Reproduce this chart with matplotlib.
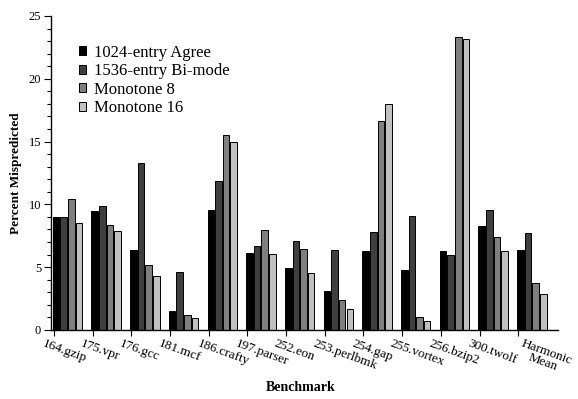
import numpy as np
import matplotlib
matplotlib.use("Agg")
import matplotlib.pyplot as plt
from matplotlib.ticker import MultipleLocator

plt.rcParams["font.family"] = ["Liberation Serif", "DejaVu Serif"]

# ── Data ──────────────────────────────────────────────────────────────────────
benchmarks = ["164.gzip", "175.vpr", "176.gcc", "181.mcf", "186.crafty",
              "197.parser", "252.eon", "253.perlbmk", "254.gap", "255.vortex",
              "256.bzip2", "300.twolf", "Harmonic\nMean"]

agree   = [9.0, 9.45, 6.35, 1.55, 9.55, 6.1, 4.96, 3.12, 6.32, 4.75, 6.32, 8.27, 6.37]
bimode  = [9.0, 9.85, 13.28, 4.6, 11.87, 6.67, 7.12, 6.35, 7.8, 9.04, 6.0, 9.55, 7.73]
mono8   = [10.45, 8.37, 5.2, 1.2, 15.52, 7.92, 6.43, 2.35, 16.67, 1.01, 23.3, 7.41, 3.76]
mono16  = [8.5, 7.87, 4.32, 0.93, 14.99, 6.03, 4.53, 1.65, 18.0, 0.75, 23.2, 6.29, 2.88]

series = [agree, bimode, mono8, mono16]
labels = ["1024-entry Agree", "1536-entry Bi-mode", "Monotone 8", "Monotone 16"]
colors = ["#000000", "#3f3f3f", "#7f7f7f", "#c0c0c0"]

# ── Figure ────────────────────────────────────────────────────────────────────
fig = plt.figure(figsize=(5.78, 3.99), dpi=100)
ax = fig.add_axes([0.088, 0.173, 0.877, 0.787])

x = np.arange(len(benchmarks))
pitch = 0.197
width = 0.17

for j, (vals, lbl, col) in enumerate(zip(series, labels, colors)):
    ax.bar(x - 0.03 + j * pitch, vals, width, align="edge", color=col,
           edgecolor="black", linewidth=0.7, label=lbl)

ax.set_xlim(-0.078, 13.02)
ax.set_ylim(0, 25)
ax.yaxis.set_major_locator(MultipleLocator(5))
ax.yaxis.set_minor_locator(MultipleLocator(1))
ax.tick_params(axis="y", which="major", length=5, width=0.8, labelsize=9, pad=2)
ax.tick_params(axis="y", which="minor", length=3, width=0.8)

ax.set_xticks(x)
ax.set_xticklabels([])
ax.tick_params(axis="x", length=4, width=0.8)

for i, name in enumerate(benchmarks):
    dx = 0.13 if "\n" in name else -0.24
    ax.text(i + dx, -0.025, name, transform=ax.get_xaxis_transform(),
            rotation=-20, rotation_mode="anchor", ha="left", va="top",
            fontsize=9.5, multialignment="center", linespacing=0.85)

for side in ["top", "right"]:
    ax.spines[side].set_visible(False)
ax.spines["left"].set_linewidth(1.0)
ax.spines["bottom"].set_linewidth(1.0)

ax.set_ylabel("Percent Mispredicted", fontsize=9.5, fontweight="bold", labelpad=5)
fig.text(0.52, 0.02, "Benchmark", ha="center", fontsize=10, fontweight="bold")

ax.legend(loc="upper left", bbox_to_anchor=(0.032, 0.945), frameon=False,
          fontsize=12, handlelength=0.45, handleheight=0.45,
          handletextpad=0.45, labelspacing=0.15, borderaxespad=0.3)

fig.savefig("out.png", dpi=100)
